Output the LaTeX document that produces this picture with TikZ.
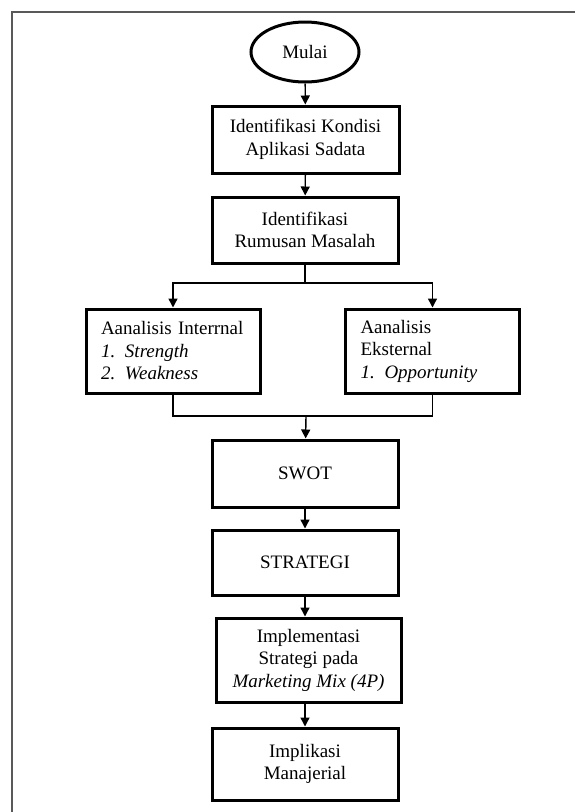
\documentclass[tikz,border=0pt]{standalone}
\usepackage{fontspec}
\setmainfont{Liberation Serif}
\usetikzlibrary{arrows.meta,shapes.geometric}

\tikzset{
	box/.style={draw, line width=3pt, align=center, inner sep=2pt,
		font=\fontsize{19}{22.5}\selectfont},
	listbox/.style={box, align=left, text width=144pt, inner xsep=15pt},
	arr/.style={line width=1.4pt, -{Triangle[length=9pt,width=9pt]}},
	line/.style={line width=1.4pt}
}
\newcommand{\itm}[2]{\makebox[24pt][l]{\textit{#1}}\textit{#2}}

\begin{document}
\begin{tikzpicture}[x=1pt,y=1pt]
		\useasboundingbox (0,0) rectangle (575,-812);
		% frame
		\draw [line width=1.6pt, black!65] (575,-12) -- (12,-12) -- (12,-812);
		% boxes
		\node [box, ellipse, minimum width=108pt, minimum height=60pt] (mulai) at (305,-52) {Mulai};
		\node [box, minimum width=187pt, minimum height=67pt] (kondisi) at (305.5,-139.5) {Identifikasi Kondisi\\Aplikasi Sadata};
		\node [box, minimum width=186pt, minimum height=66pt] (rumusan) at (305,-230) {Identifikasi\\Rumusan Masalah};
		\node [listbox, minimum height=84pt] (internal) at (173,-351) {\mbox{Aanalisis Interrnal}\\\itm{1.}{Strength}\\\itm{2.}{Weakness}};
		\node [listbox, minimum height=84pt] (eksternal) at (432.5,-351) {Aanalisis\\Eksternal\\\itm{1.}{Opportunity}};
		\node [box, minimum width=186pt, minimum height=67pt] (swot) at (305,-473.5) {SWOT};
		\node [box, minimum width=186pt, minimum height=65pt] (strategi) at (305,-562.5) {STRATEGI};
		\node [box, minimum width=185pt, minimum height=84pt] (implementasi) at (308.5,-660) {Implementasi\\Strategi pada\\\textit{Marketing Mix (4P)}};
		\node [box, minimum width=186pt, minimum height=72pt] (implikasi) at (305,-764) {Implikasi\\Manajerial};
		% connectors
		\coordinate (split) at (305,-283);
		\coordinate (join) at (306,-416);
		\draw [arr] (mulai) -- (kondisi);
		\draw [arr] (kondisi) -- (rumusan);
		\draw [line] (rumusan) -- (split);
		\draw [arr] (split) -| (internal.north);
		\draw [arr] (split) -| (eksternal.north);
		\draw [line] (internal.south) |- (join) -| (eksternal.south);
		\draw [arr] (join) -- (swot);
		\draw [arr] (swot) -- (strategi);
		\draw [arr] (strategi) -- (implementasi.north -| strategi);
		\draw [arr] (implementasi.south -| implikasi) -- (implikasi);
	\end{tikzpicture}
\end{document}
